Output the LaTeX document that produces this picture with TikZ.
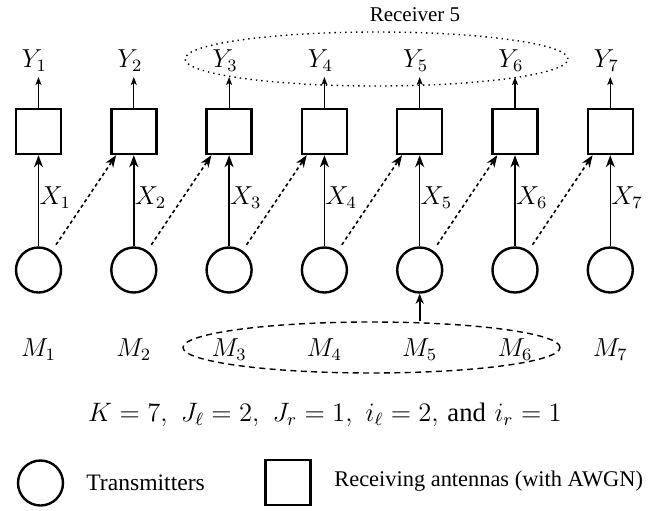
\documentclass[tikz,border=0pt]{standalone}
\usepackage[no-math]{fontspec}
\newfontfamily\tms{Liberation Serif}
\newcommand\bigmath[1]{\scalebox{1.0833}{#1}}
\usetikzlibrary{arrows.meta,shapes.geometric,calc}
\begin{document}
\begin{tikzpicture}[x=0.5pt,y=-0.5pt,
  rxbox/.style={draw, line width=1.2pt, minimum size=22.5pt, inner sep=0pt},
  txcirc/.style={draw, circle, line width=1.2pt, minimum size=22.5pt, inner sep=0pt},
  lab/.style={font=\fontsize{12}{14}\selectfont, inner sep=1pt},
  txt/.style={font=\tms\fontsize{10.5}{12}\selectfont, inner sep=1pt},
  uparr/.style={line width=0.75pt, -{Stealth[length=6pt,width=4.5pt,inset=1.8pt]}},
  yarr/.style={line width=0.6pt, -{Stealth[length=4pt,width=3pt,inset=1pt]}},
  dsharr/.style={line width=0.8pt, dash pattern=on 1.7pt off 1.5pt, -{Stealth[length=6pt,width=4.5pt,inset=1.8pt]}},
  grp/.style={draw, ellipse, inner sep=0pt, line width=0.7pt}]
\useasboundingbox (0,0) rectangle (660,510);
\foreach \i in {1,...,7} {
  \pgfmathsetmacro\xx{38.5+95.3*(\i-1)}
  \node[rxbox] (b\i) at (\xx,131.5) {};
  \node[txcirc] (c\i) at (\xx,270) {};
  \node[lab] (m\i) at (\xx,350) {\bigmath{$M_{\i}$}};
  \coordinate (yt\i) at (\xx,77);
  \node[lab, anchor=south] (y\i) at (\xx-4,74) {\bigmath{$Y_{\i}$}};
  \node[lab, anchor=west, inner sep=0.3pt] (x\i) at (\xx,198) {\bigmath{$X_{\i}$}};
  \draw[uparr] (c\i) -- (b\i);
  \draw[yarr] (b\i) -- (yt\i);
}
\foreach \i/\j in {1/2,2/3,3/4,4/5,5/6,6/7} {
  \draw[dsharr, shorten <=3.5pt] (c\i.55) -- ($(b\j.south west)+(6,0)$);
}
\node[grp, dotted, minimum width=191.5pt, minimum height=27pt] (e1) at (376.5,59) {};
\node[txt] (r5) at (415,15) {Receiver 5};
\node[grp, dash pattern=on 3pt off 2.2pt, minimum width=188.5pt, minimum height=25.5pt] (e2) at (371.5,347.5) {};
\draw[line width=1pt, -{Stealth[length=5pt,width=4pt,inset=1.5pt]}] (c5 |- e2.north) -- (c5);
\node[lab] (f) at (325,415) {\scalebox{1.11}{$K=7,\ J_\ell=2,\ J_r=1,\ i_\ell=2,$ {\tms and} $i_r=1$}};
\node[txcirc] (lc) at (40.5,483) {};
\node[font=\tms\fontsize{11.8}{14}\selectfont, inner sep=1pt, anchor=west] (lt) at (84,483) {Transmitters};
\node[rxbox] (lb) at (288,482.5) {};
\node[font=\tms\fontsize{11.2}{14}\selectfont, inner sep=1pt, anchor=west] (lr) at (332,481) {Receiving antennas (with AWGN)};
\end{tikzpicture}
\end{document}
